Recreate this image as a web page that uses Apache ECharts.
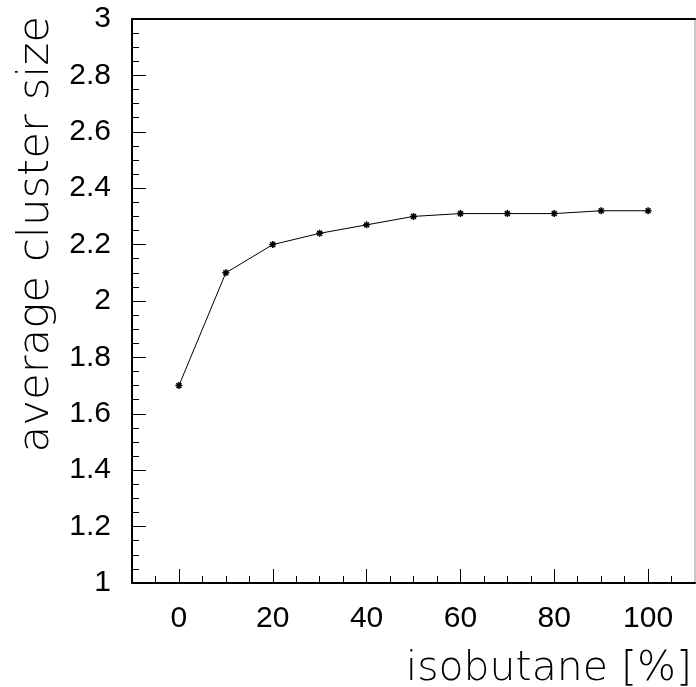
<!DOCTYPE html>
<html>
<head>
<meta charset="utf-8">
<script src="https://cdn.jsdelivr.net/npm/echarts@6/dist/echarts.min.js"></script>
<style>
html,body{margin:0;padding:0;background:#fff;}
#chart{width:696px;height:687px;}
</style>
</head>
<body>
<div id="chart"></div>
<script>
var isobutane = [0, 10, 20, 30, 40, 50, 60, 70, 80, 90, 100];
var clusterSize = [1.70, 2.10, 2.20, 2.24, 2.27, 2.30, 2.31, 2.31, 2.31, 2.32, 2.32];
var xMajorTicks = [0, 20, 40, 60, 80, 100];
var xMinorTicks = [-5, 5, 10, 15, 25, 30, 35, 45, 50, 55, 65, 70, 75, 85, 90, 95, 105];
var xTitle = 'isobutane [%]';
var yTitle = 'average cluster size';

var pts = isobutane.map(function (x, i) { return [x, clusterSize[i]]; });
var labelFont = { color: '#000', fontFamily: 'Liberation Sans, Arial, sans-serif', fontSize: 30 };
var titleFont = 'DejaVu Sans, sans-serif';

var chart = echarts.init(document.getElementById('chart'));
chart.setOption({
  animation: false,
  backgroundColor: '#fff',
  grid: { left: 132, top: 19, right: 1, bottom: 104, containLabel: false },
  xAxis: [
    {
      type: 'value', min: -10, max: 110, position: 'bottom',
      axisLine: { show: true, onZero: false, lineStyle: { color: '#000', width: 2 } },
      axisTick: { show: true, inside: true, length: 14, customValues: xMajorTicks, lineStyle: { color: '#000', width: 1 } },
      axisLabel: Object.assign({ customValues: xMajorTicks, margin: 21 }, labelFont),
      splitLine: { show: false }
    },
    {
      type: 'value', min: -10, max: 110, position: 'bottom',
      axisLine: { show: false },
      axisTick: { show: true, inside: true, length: 7, customValues: xMinorTicks, lineStyle: { color: '#000', width: 1 } },
      axisLabel: { show: false },
      splitLine: { show: false }
    },
    {
      type: 'value', min: -10, max: 110, position: 'top',
      axisLine: { show: true, onZero: false, lineStyle: { color: '#000', width: 2 } },
      axisTick: { show: false }, axisLabel: { show: false }, splitLine: { show: false }
    }
  ],
  yAxis: [
    {
      type: 'value', min: 1, max: 3, interval: 0.2, position: 'left',
      axisLine: { show: true, onZero: false, lineStyle: { color: '#000', width: 2 } },
      axisTick: { show: true, inside: true, length: 14, lineStyle: { color: '#000', width: 1 } },
      minorTick: { show: true, splitNumber: 4, length: 7, lineStyle: { color: '#000', width: 1 } },
      axisLabel: Object.assign({ margin: 21, formatter: function (v) { return String(Math.round(v * 10) / 10); } }, labelFont),
      splitLine: { show: false }
    },
    {
      type: 'value', min: 1, max: 3, position: 'right',
      axisLine: { show: true, onZero: false, lineStyle: { color: '#c8c8c8', width: 2 } },
      axisTick: { show: false }, axisLabel: { show: false }, splitLine: { show: false }
    }
  ],
  series: [{
    type: 'line',
    xAxisIndex: 0, yAxisIndex: 0,
    data: pts,
    symbol: 'path://M0,-1L0,1M-1,0L1,0M-0.7,-0.7L0.7,0.7M-0.7,0.7L0.7,-0.7',
    symbolSize: 7,
    itemStyle: { color: '#000', borderColor: '#000', borderWidth: 1.5 },
    lineStyle: { color: '#000', width: 1 },
    emphasis: { disabled: true }
  }],
  graphic: [
    {
      type: 'text', right: 4, bottom: -3,
      style: { text: xTitle, fill: '#000', font: '200 41px ' + titleFont, textAlign: 'right' }
    },
    {
      type: 'text', x: 37, y: 16, rotation: Math.PI / 2,
      style: { text: yTitle, fill: '#000', font: '200 43.5px ' + titleFont, textAlign: 'right', textVerticalAlign: 'middle' }
    }
  ]
});
</script>
</body>
</html>
